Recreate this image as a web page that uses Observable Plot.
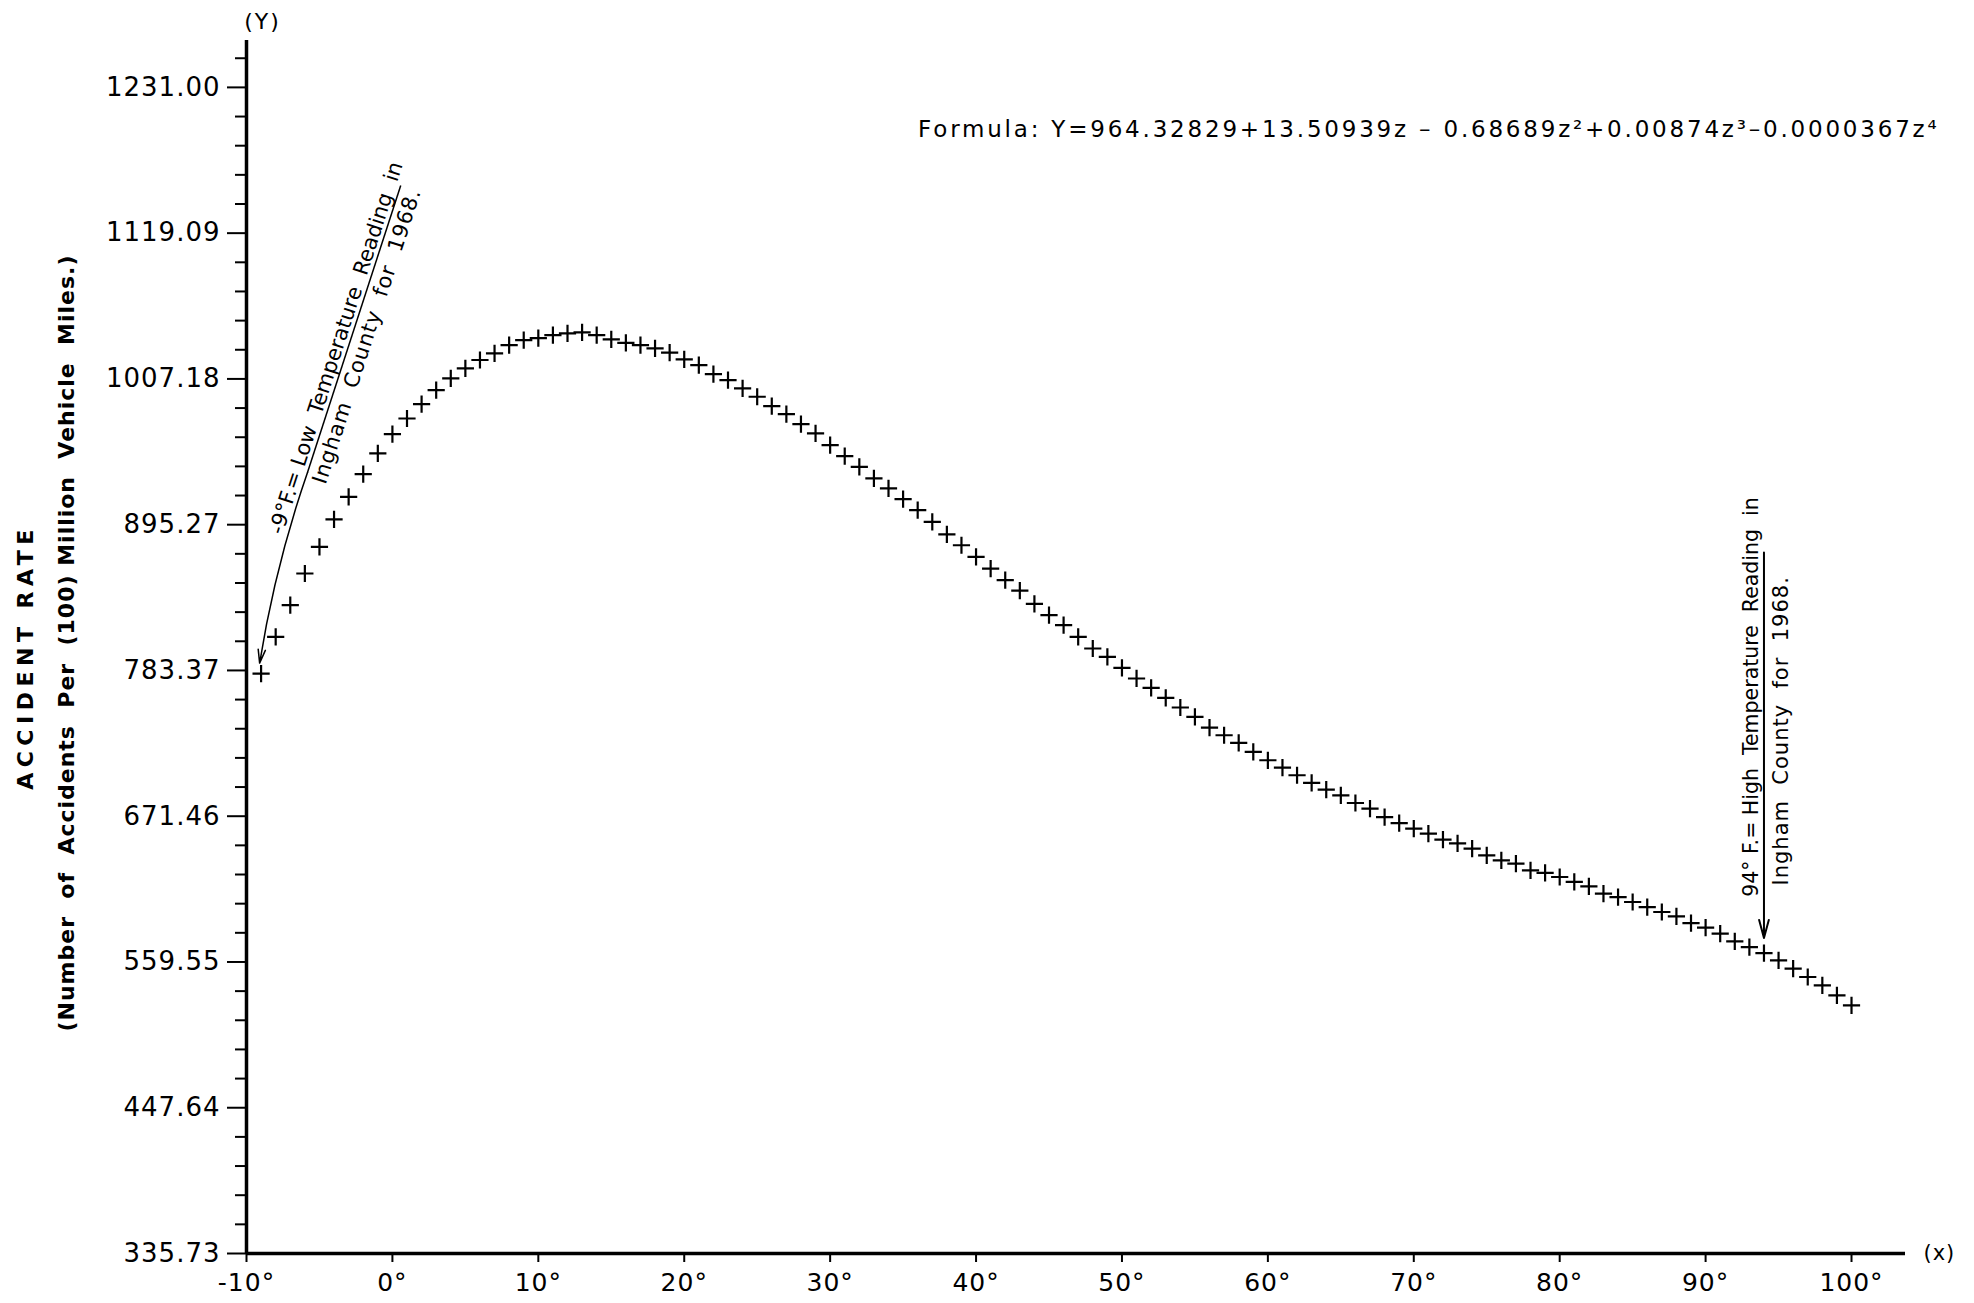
<!DOCTYPE html>
<html><head><meta charset="utf-8">
<script src="https://cdn.jsdelivr.net/npm/d3@7"></script>
<script src="https://cdn.jsdelivr.net/npm/@observablehq/plot@0.6"></script>
<style>
body{margin:0;background:#fff}
#chart{position:absolute;left:0;top:0}
</style>
</head><body><div id="chart"></div>
<script>
// Temperature (°F)
const temperatures = [-9,-8,-7,-6,-5,-4,-3,-2,-1,0,1,2,3,4,5,6,7,8,9,10,11,12,13,14,15,16,17,18,19,20,
  21,22,23,24,25,26,27,28,29,30,31,32,33,34,35,36,37,38,39,40,41,42,43,44,45,46,47,48,49,50,
  51,52,53,54,55,56,57,58,59,60,61,62,63,64,65,66,67,68,69,70,71,72,73,74,75,76,77,78,79,80,
  81,82,83,84,85,86,87,88,89,90,91,92,93,94,95,96,97,98,99,100];
// Accident rate (accidents per 100 million vehicle miles)
const accidentRates = [781.0,809.1,833.5,857.8,878.2,899.3,916.6,934.1,950.0,964.8,976.8,987.9,998.6,1007.6,1015.3,1021.7,1026.8,1033.2,1037.0,1038.5,1040.8,1042.1,1042.9,1040.8,1037.5,1034.9,1033.2,1030.6,1027.3,1022.2,
  1017.8,1010.9,1006.3,999.9,993.5,986.3,980.2,972.5,965.3,956.4,947.9,939.7,930.8,923.1,914.9,906.4,897.4,887.8,879.5,870.6,861.6,852.7,844.6,834.5,825.8,818.1,809.1,800.2,793.8,785.3,
  777.2,770.0,762.3,754.9,747.7,739.5,733.6,727.7,720.8,714.4,708.8,702.9,697.0,691.9,687.5,681.6,677.3,670.8,666.2,662.0,658.1,653.5,650.6,646.6,641.4,637.6,635.1,629.9,627.9,624.8,
  621.0,617.6,612.0,609.4,605.6,601.7,597.9,594.6,589.4,585.9,581.3,575.4,571.0,566.4,560.8,554.4,548.0,541.6,533.9,526.2];
// Axis ticks
const yTickValues = [335.73,447.64,559.55,671.46,783.37,895.27,1007.18,1119.09,1231.00];
const yTickLabels = ["335.73","447.64","559.55","671.46","783.37","895.27","1007.18","1119.09","1231.00"];
const xTickValues = [-10,0,10,20,30,40,50,60,70,80,90,100];
const xTickLabels = ["-10°","0°","10°","20°","30°","40°","50°","60°","70°","80°","90°","100°"];
// Texts
const formulaText = "Formula: Y=964.32829+13.50939z – 0.68689z²+0.00874z³–0.0000367z⁴";
const yTitle = "ACCIDENT RATE";
const ySubtitle = "(Number  of  Accidents  Per  (100) Million  Vehicle  Miles.)";
// Annotations (anchor points in data units)
const lowNote = {temp: -9, line1: "-9°F.= Low  Temperature  Reading  in", line2: "Ingham  County  for  1968.",
  topX: 0.57, topY: 1155.7, kneeX: -5.82, kneeY: 935.4, tipX: -9.1, tipY: 789,
  t1X: -3.85, t1Y: 1031, t2X: -1.75, t2Y: 1040};
const highNote = {temp: 94, line1: "94° F.= High  Temperature  Reading  in", line2: "Ingham  County  for  1968.",
  fromY: 874, toY: 578, t1Y: 763, t2Y: 737};

const data = temperatures.map((t, i) => ({t, rate: accidentRates[i]}));
const yTop = 1267;
const minorTicks = [];
for (let i = 0; i < yTickValues.length; i++) {
  const step = (yTickValues[1] - yTickValues[0]) / 5;
  for (let k = 1; k < 5; k++) {
    const v = yTickValues[i] + k * step;
    if (v < yTop) minorTicks.push(v);
  }
}
const labelOf = new Map(yTickValues.map((v, i) => [v, yTickLabels[i]]));
const xLabelOf = new Map(xTickValues.map((v, i) => [v, xTickLabels[i]]));

const chart = Plot.plot({
  width: 1974,
  height: 1303,
  marginLeft: 246,
  marginTop: 40,
  marginBottom: 50,
  marginRight: 69,
  style: {fontFamily: "DejaVu Sans", background: "white", color: "black"},
  x: {domain: [-10, 103.7]},
  y: {domain: [335.73, yTop]},
  marks: [
    Plot.axisY(yTickValues, {tickSize: 19, tickPadding: 7, strokeWidth: 2, fontSize: 26,
      tickFormat: d => labelOf.get(d), label: null}),
    Plot.axisY(minorTicks, {tickSize: 11, strokeWidth: 2, text: null, label: null}),
    Plot.axisX(xTickValues, {tickSize: 9, tickPadding: 11, strokeWidth: 2, fontSize: 25,
      tickFormat: d => xLabelOf.get(d), label: null}),
    Plot.ruleX([-10], {strokeWidth: 3.5}),
    Plot.ruleY([335.73], {strokeWidth: 3.5}),
    Plot.dot(data, {x: "t", y: "rate", symbol: "plus", r: 5.6, stroke: "black", strokeWidth: 2.2}),
    // low annotation: straight underline, then curved arrow down to the -9° point
    Plot.link([lowNote], {x1: "topX", y1: "topY", x2: "kneeX", y2: "kneeY", strokeWidth: 1.5}),
    Plot.arrow([lowNote], {x1: "kneeX", y1: "kneeY", x2: "tipX", y2: "tipY", bend: -5,
      strokeWidth: 1.5, headLength: 14, headAngle: 30}),
    Plot.text([lowNote], {x: "t1X", y: "t1Y", text: "line1", rotate: -72, fontSize: 21}),
    Plot.text([lowNote], {x: "t2X", y: "t2Y", text: "line2", rotate: -72, fontSize: 21}),
    // high annotation
    Plot.arrow([highNote], {x1: "temp", y1: "fromY", x2: "temp", y2: "toY",
      strokeWidth: 2, headLength: 14, headAngle: 30}),
    Plot.text([highNote], {x: "temp", y: "t1Y", text: "line1", rotate: -90, dx: -13, fontSize: 20.5}),
    Plot.text([highNote], {x: "temp", y: "t2Y", text: "line2", rotate: -90, dx: 17, fontSize: 21}),
    // formula and axis names
    Plot.text([formulaText], {frameAnchor: "top-right", dx: 34, dy: 80, fontSize: 23, textAnchor: "end"}),
    Plot.text(["(Y)"], {frameAnchor: "top-left", dx: 16, dy: -27, fontSize: 22, textAnchor: "middle"}),
    Plot.text(["(x)"], {frameAnchor: "bottom-right", dx: 18, dy: 6, fontSize: 21, textAnchor: "start"}),
    Plot.text([yTitle], {frameAnchor: "left", dx: -221, dy: 10, rotate: -90, fontSize: 22, fontWeight: "bold", textAnchor: "middle"}),
    Plot.text([ySubtitle], {frameAnchor: "left", dx: -180, dy: -4, rotate: -90, fontSize: 22, fontWeight: "bold", textAnchor: "middle"})
  ]
});
document.getElementById("chart").appendChild(chart);
const sel = d3.select(chart).selectAll("text");
const spacing = new Map([
  [yTitle, "5.5px"], [ySubtitle, "1px"], [formulaText, "2.8px"], ["(Y)", "2px"], ["(x)", "1px"],
  [highNote.line2, "1px"]
]);
sel.each(function() {
  const s = spacing.get(this.textContent);
  if (s) d3.select(this).style("letter-spacing", s);
});
d3.select(chart).selectAll('g[aria-label="y-axis tick label"] text, g[aria-label="x-axis tick label"] text').style("letter-spacing", "1px");
</script>
</body></html>
